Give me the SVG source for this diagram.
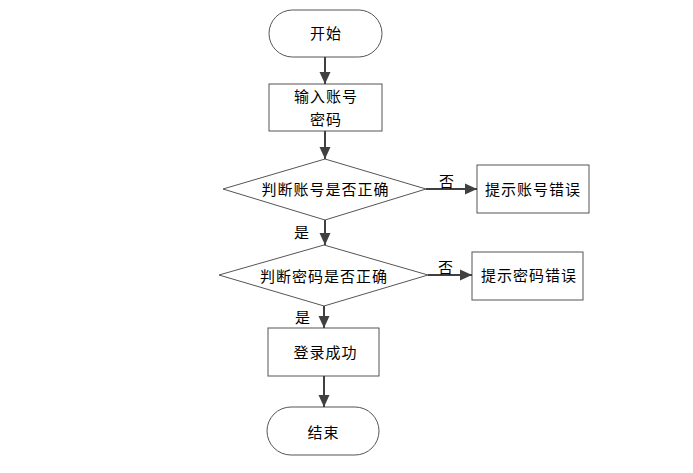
<svg xmlns="http://www.w3.org/2000/svg" width="693" height="473" viewBox="0 0 693 473">
<style>
.shape{fill:#fff;stroke:#555;stroke-width:1}
.t{font-family:"Microsoft YaHei","Noto Sans CJK SC",sans-serif;font-size:15px;fill:#000;text-anchor:middle;letter-spacing:1px}
.c{stroke:#404040;stroke-width:2;fill:none}
</style>
<defs>
<marker id="ah" markerUnits="userSpaceOnUse" markerWidth="12" markerHeight="12" viewBox="0 0 12 12" refX="12" refY="6" orient="auto">
<path d="M0,0.5 L12,6 L0,11.5 Z" fill="#404040"/>
</marker>
</defs>
<rect width="693" height="473" fill="#fff"/>
<g id="start"><rect class="shape" x="269" y="10" width="113" height="47" rx="23.5"/><text class="t" x="326" y="38.5">开始</text></g>
<g id="input"><rect class="shape" x="269" y="84" width="113" height="47"/><text class="t" x="326" y="101.5">输入账号</text><text class="t" x="326" y="124.5">密码</text></g>
<g id="check-account"><polygon class="shape" points="325,159 426,189 325,220 223,189"/><text class="t" x="325.5" y="195">判断账号是否正确</text></g>
<g id="account-error"><rect class="shape" x="477" y="165" width="112" height="48"/><text class="t" x="533" y="195">提示账号错误</text></g>
<g id="check-password"><polygon class="shape" points="324,245 428,275 324,306 219,275"/><text class="t" x="324" y="282">判断密码是否正确</text></g>
<g id="password-error"><rect class="shape" x="472" y="252" width="111" height="48"/><text class="t" x="529" y="281">提示密码错误</text></g>
<g id="success"><rect class="shape" x="268" y="328" width="111" height="48"/><text class="t" x="325.5" y="357.5">登录成功</text></g>
<g id="end"><rect class="shape" x="267" y="407" width="112" height="48" rx="24"/><text class="t" x="323.5" y="437.5">结束</text></g>
<g id="connectors">
<line class="c" x1="325" y1="57" x2="325" y2="84" marker-end="url(#ah)"/>
<line class="c" x1="325" y1="131" x2="325" y2="159" marker-end="url(#ah)"/>
<line class="c" x1="426" y1="189" x2="477" y2="189" marker-end="url(#ah)"/>
<line class="c" x1="325" y1="220" x2="325" y2="245" marker-end="url(#ah)"/>
<line class="c" x1="428" y1="275" x2="472" y2="275" marker-end="url(#ah)"/>
<line class="c" x1="324" y1="306" x2="324" y2="328" marker-end="url(#ah)"/>
<line class="c" x1="324" y1="376" x2="324" y2="407" marker-end="url(#ah)"/>
<text class="t" x="447" y="187">否</text>
<text class="t" x="302" y="238">是</text>
<text class="t" x="446" y="273">否</text>
<text class="t" x="303" y="323">是</text>
</g>
</svg>
